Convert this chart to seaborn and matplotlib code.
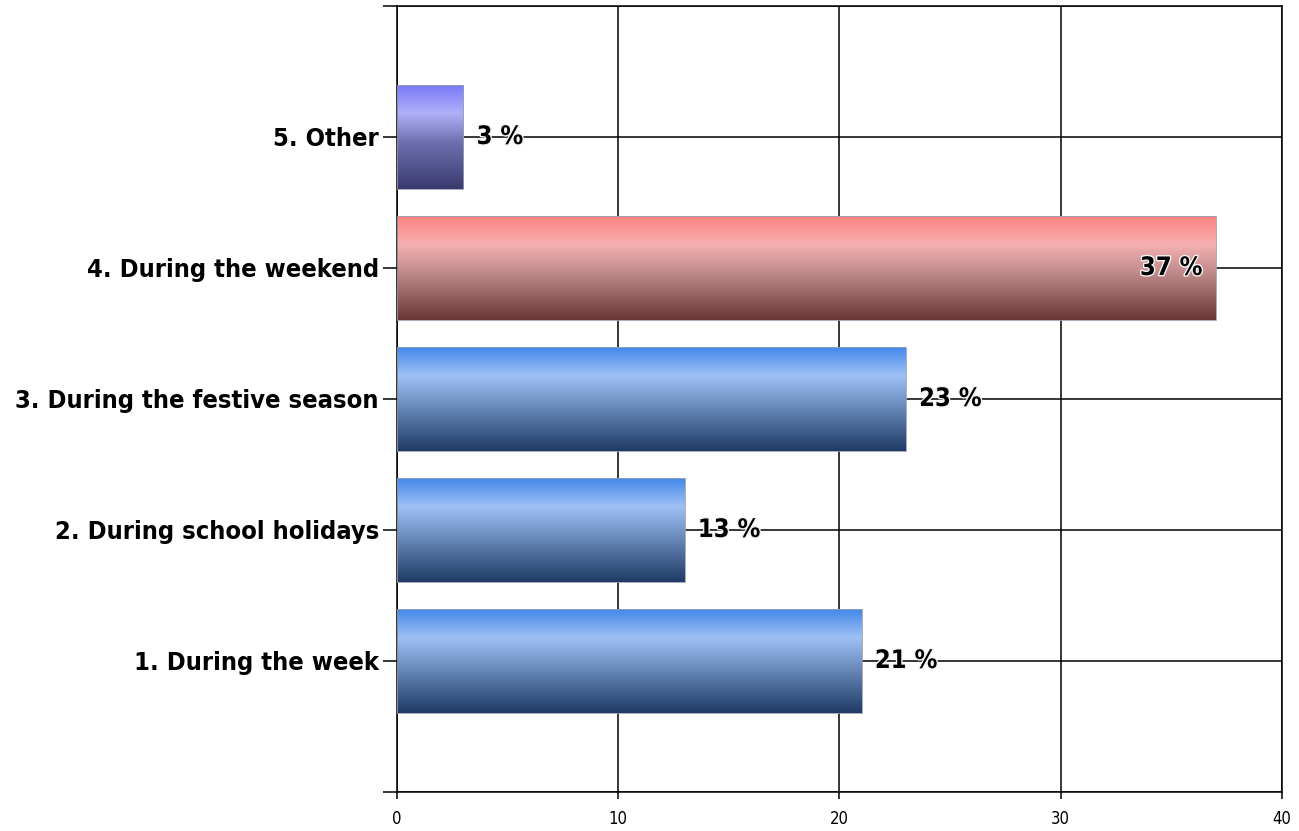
import numpy as np
import pandas as pd
import matplotlib
matplotlib.use("Agg")
import matplotlib.pyplot as plt
import matplotlib.patheffects as pe
from matplotlib import font_manager as fm
from matplotlib.colors import LinearSegmentedColormap
import seaborn as sns

# ─── DATA ─────────────────────────────────────────────────────────────────────
categories = [
    "1. During the week",
    "2. During school holidays",
    "3. During the festive season",
    "4. During the weekend",
    "5. Other",
]
values = [21, 13, 23, 37, 3]
value_labels = ["21 %", "13 %", "23 %", "37 %", "3 %"]
x_ticks = [0, 10, 20, 30, 40]

# ─── STYLE ────────────────────────────────────────────────────────────────────
sns.set_style("white")


def is_bold(f):
    return f.weight in ("bold", 700) or "bold" in f.fname.lower()


def is_plain(f):
    low = f.fname.lower()
    return not is_bold(f) and "oblique" not in low and "italic" not in low


# look for a narrow / condensed face, the reference uses Arial Narrow
narrow = [f for f in fm.fontManager.ttflist
          if "narrow" in f.name.lower() or "condensed" in f.name.lower()
          or str(f.stretch) in ("condensed", "semi-condensed", "extra-condensed")]
narrow_bold = [f for f in narrow if is_bold(f) and "oblique" not in f.fname.lower()
               and "italic" not in f.fname.lower()]
narrow_plain = [f for f in narrow if is_plain(f)]

if narrow_bold:
    LABEL_FONT = fm.FontProperties(fname=narrow_bold[0].fname)
else:
    LABEL_FONT = fm.FontProperties(family="Liberation Sans", weight="bold")
if narrow_plain:
    TICK_FONT = fm.FontProperties(fname=narrow_plain[0].fname)
else:
    TICK_FONT = fm.FontProperties(family="Liberation Sans")

plt.rcParams["font.family"] = ["Liberation Sans", "DejaVu Sans"]
plt.rcParams["text.color"] = "black"

GRADIENTS = {
    "blue":   ["#3f86ea", "#9fc0f5", "#6e8fc0", "#1f3a66"],
    "red":    ["#ff8080", "#f5b0b0", "#c08a8a", "#6a3535"],
    "purple": ["#7878f8", "#b0b0f8", "#7070b0", "#3a3a70"],
}
bar_style = ["blue", "blue", "blue", "red", "purple"]

df = pd.DataFrame({"category": categories, "value": values})
order = categories[::-1]  # top to bottom

fig = plt.figure(figsize=(12.99, 8.31), dpi=100)
ax = fig.add_axes([0.3056, 0.047, 0.9869 - 0.3056, 0.9928 - 0.047])

sns.barplot(data=df, x="value", y="category", order=order, orient="h",
            color="#4f8ff0", width=0.8, ax=ax, saturation=1)

# gradient fill for each bar
stops = [0.0, 0.28, 0.55, 1.0]
for patch, cat in zip(ax.patches, order):
    style = bar_style[categories.index(cat)]
    cmap = LinearSegmentedColormap.from_list(style, list(zip(stops, GRADIENTS[style])))
    x0, y0 = patch.get_x(), patch.get_y()
    w, h = patch.get_width(), patch.get_height()
    grad = np.linspace(0, 1, 256).reshape(-1, 1)
    im = ax.imshow(grad, cmap=cmap, aspect="auto", origin="upper",
                   extent=(x0, x0 + w, y0 + h, y0), zorder=2)
    im.set_clip_path(patch)
    patch.set_facecolor("none")
    patch.set_edgecolor("#9aa0b0")
    patch.set_linewidth(0.6)
    patch.set_zorder(3)

ax.set_xlim(0, 40)
ax.set_ylim(len(order), -1)
ax.set_xticks(x_ticks)
ax.set_xticklabels([str(t) for t in x_ticks], fontproperties=TICK_FONT, fontsize=12)
ax.set_yticks(range(-1, len(order) + 1))
size = 24
ytl = ax.set_yticklabels([""] + order + [""], fontproperties=LABEL_FONT, fontsize=size)

# shrink the category labels until the longest fits left of the axes (~366 px)
renderer = fig.canvas.get_renderer()
longest = max(ytl, key=lambda t: len(t.get_text()))
while longest.get_window_extent(renderer).width > 366 and size > 10:
    size -= 0.25
    for t in ytl:
        t.set_fontsize(size)

# value labels
for cat, val, lab in zip(categories, values, value_labels):
    pos = order.index(cat)
    if val > 30:
        x, ha = val - 0.6, "right"
    else:
        x, ha = val + 0.6, "left"
    ax.text(x, pos, lab, ha=ha, va="center", fontproperties=LABEL_FONT,
            fontsize=size, color="black", zorder=5,
            path_effects=[pe.withStroke(linewidth=2, foreground="#f4f4f4")])

ax.grid(True, color="black", linewidth=1.1, zorder=1)
ax.set_axisbelow(True)
ax.tick_params(axis="y", left=True, length=10, width=1.1, color="black",
               labelcolor="black", pad=3)
ax.tick_params(axis="x", bottom=True, length=5, width=1.1, color="black",
               labelcolor="black", pad=8)
for side in ["left", "bottom", "top", "right"]:
    ax.spines[side].set_visible(True)
    ax.spines[side].set_color("black")
    ax.spines[side].set_linewidth(1.1)
ax.set_xlabel("")
ax.set_ylabel("")

fig.savefig("out.png", dpi=100, facecolor="white")
